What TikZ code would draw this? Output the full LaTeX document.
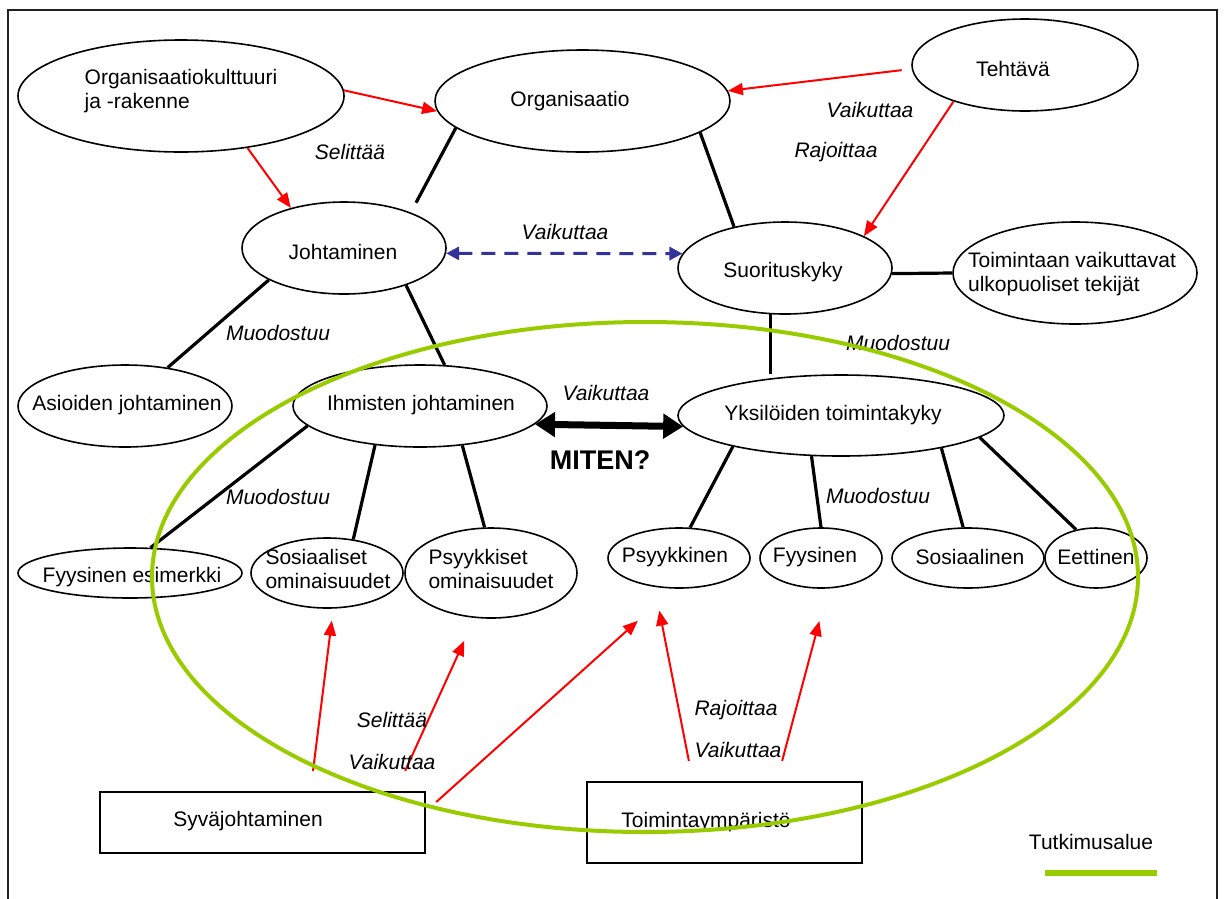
\documentclass[tikz,border=0pt]{standalone}
\usepackage{fontspec}
\setmainfont{Liberation Sans}
\usetikzlibrary{arrows.meta,shapes.geometric}
\definecolor{rd}{RGB}{255,0,0}
\definecolor{bl}{RGB}{51,51,153}
\definecolor{gr}{RGB}{153,204,0}
\definecolor{fr}{RGB}{34,34,34}
\begin{document}
\begin{tikzpicture}[x=1pt,y=-1pt,
  every node/.style={font=\fontsize{21}{24}\selectfont},
  ell/.style={draw, ellipse, line width=1.6pt, inner sep=0pt},
  bx/.style={draw, rectangle, line width=2.2pt, inner sep=0pt},
  txt/.style={align=left, inner sep=0pt},
  it/.style={inner sep=0pt, font=\fontsize{21}{24}\selectfont\itshape},
  conn/.style={line width=3.2pt},
  rarr/.style={draw=rd, line width=2pt, -{Triangle[length=15pt,width=12pt]}},
  darr/.style={draw=bl, line width=3pt, dash pattern=on 14pt off 9pt,
     {Triangle[length=13pt,width=13pt]}-{Triangle[length=13pt,width=13pt]}},
  karr/.style={line width=7pt, {Triangle[length=20pt,width=24pt]}-{Triangle[length=20pt,width=24pt]}}
]
\useasboundingbox (0,0) rectangle (1226,898);
% frame
\draw[fr, line width=2pt] (8,900) -- (8,10) -- (1217,10) -- (1217,900);

% ellipses
\node[ell, minimum width=326pt, minimum height=112pt] (orgk) at (181,96) {};
\node[txt] (torgk) at (181,91) {Organisaatiokulttuuri\\ja -rakenne};
\node[ell, minimum width=295pt, minimum height=102pt] (org) at (582.5,101) {};
\node[txt] (torg) at (570,101) {Organisaatio};
\node[ell, minimum width=226pt, minimum height=92pt] (teh) at (1025,65) {};
\node[txt] (tteh) at (1013,69) {Tehtävä};
\node[ell, minimum width=204pt, minimum height=92pt] (joht) at (344,248) {};
\node[txt] (tjoht) at (343,252) {Johtaminen};
\node[ell, minimum width=214pt, minimum height=92pt] (suor) at (785,268) {};
\node[txt] (tsuor) at (783,272) {Suorituskyky};
\node[ell, minimum width=244pt, minimum height=102pt] (toim) at (1075,273) {};
\node[txt] (ttoim) at (1072,274) {Toimintaan vaikuttavat\\ulkopuoliset tekijät};
\node[ell, minimum width=214pt, minimum height=82pt] (asi) at (125,406) {};
\node[txt] (tasi) at (127,405) {Asioiden johtaminen};
\node[ell, minimum width=254pt, minimum height=82pt] (ihm) at (420,406) {};
\node[txt] (tihm) at (421,405) {Ihmisten johtaminen};
\node[ell, minimum width=326pt, minimum height=81pt] (yks) at (841,415.5) {};
\node[txt] (tyks) at (833,415) {Yksilöiden toimintakyky};
\node[ell, minimum width=224pt, minimum height=50pt] (fyes) at (130,573) {};
\node[txt] (tfyes) at (132,577) {Fyysinen esimerkki};
\node[ell, minimum width=152pt, minimum height=70pt] (sos) at (327,573) {};
\node[txt] (tsos) at (328,569) {Sosiaaliset\\ominaisuudet};
\node[ell, minimum width=172pt, minimum height=90pt] (psy) at (491,573) {};
\node[txt] (tpsy) at (491,569) {Psyykkiset\\ominaisuudet};
\node[ell, minimum width=142pt, minimum height=60pt] (psyk) at (679,558) {};
\node[txt] (tpsyk) at (675,557) {Psyykkinen};
\node[ell, minimum width=122pt, minimum height=60pt] (fyy) at (821,558) {};
\node[txt] (tfyy) at (815,557) {Fyysinen};
\node[ell, minimum width=152pt, minimum height=60pt] (sosl) at (968,558) {};
\node[txt] (tsosl) at (970,557) {Sosiaalinen};
\node[ell, minimum width=102pt, minimum height=60pt] (eet) at (1096,558) {};
\node[txt] (teet) at (1096,557) {Eettinen};

% boxes
\node[bx, minimum width=325pt, minimum height=61pt] (syv) at (262.5,822.5) {};
\node[txt] (tsyv) at (248,821) {Syväjohtaminen};
\node[bx, minimum width=275pt, minimum height=81pt] (tym) at (724.5,822.5) {};
\node[txt] (ttym) at (706,822) {Toimintaympäristö};

% connectors
\draw[rarr] (orgk.2) -- (org.184);
\draw[rarr] (orgk.-38) -- (joht.143);
\draw[conn, shorten >=11pt] (org.192) -- (joht.28.5);
\draw[rarr, shorten <=10pt] (teh.182) -- (org.4);
\draw[rarr] (teh.207) -- (suor.22);
\draw[conn] (org.-15) -- (suor.141);
\draw[darr] (joht.-3) -- (suor.172);
\draw[conn] (suor.-3) -- (toim.180);
\draw[conn] (suor.253) -- (suor.253 |- yks.north);
\draw[conn] (joht.203) -- (asi.42);
\draw[conn] (joht.-31) -- (ihm.59);
\draw[karr] (ihm.-9.5) -- (yks.184);
\draw[conn] (ihm.190) -- (fyes.51);
\draw[conn] (ihm.221) -- (sos.52);
\draw[conn] (ihm.-43) -- (psy.98);
\draw[conn] (yks.196) -- (psyk.70);
\draw[conn] (yks.234) -- (fyy.north);
\draw[conn] (yks.-18) -- (sosl.99);
\draw[conn] (yks.-9) -- (eet.125);

\draw[rarr, shorten <=20pt, shorten >=12pt] ([xshift=48pt]syv.north) -- (sos.-80);
\draw[rarr, shorten <=22pt, shorten >=25pt] ([xshift=133.5pt]syv.north) -- (psy.250.6);
\draw[rarr, shorten <=13.6pt, shorten >=48pt] ([yshift=11.4pt]syv.east) -- (psyk.260.5);
\draw[rarr, shorten <=20.4pt, shorten >=24pt] ([xshift=-31.7pt]tym.north) -- (psyk.230.4);
\draw[rarr, shorten <=20.7pt, shorten >=33.5pt] ([xshift=52.3pt]tym.north) -- (fyy.-77.8);

% labels
\node[it] (l1) at (350,152) {Selittää};
\node[it] (l2) at (565,232) {Vaikuttaa};
\node[it] (l3) at (870,110) {Vaikuttaa};
\node[it] (l4) at (836,152) {Rajoittaa};
\node[it] (l5) at (278,333) {Muodostuu};
\node[it] (l6) at (278,497) {Muodostuu};
\node[it] (l7) at (898,343) {Muodostuu};
\node[it] (l8) at (878,496) {Muodostuu};
\node[it] (l9) at (606,393) {Vaikuttaa};
\node[inner sep=0pt, font=\fontsize{27}{30}\selectfont\bfseries] (miten) at (600,460) {MITEN?};
\node[it] (l10) at (392,720) {Selittää};
\node[it] (l11) at (392,762) {Vaikuttaa};
\node[it] (l12) at (736,710) {Rajoittaa};
\node[it] (l13) at (738,750) {Vaikuttaa};

% research area
\draw[draw=gr, line width=4pt] (645,577) ellipse [x radius=493pt, y radius=255pt];
\node[inner sep=0pt] (leg) at (1091,842) {Tutkimusalue};
\draw[draw=gr, line width=6pt] (1045,873) -- (1157,873);
\end{tikzpicture}
\end{document}
